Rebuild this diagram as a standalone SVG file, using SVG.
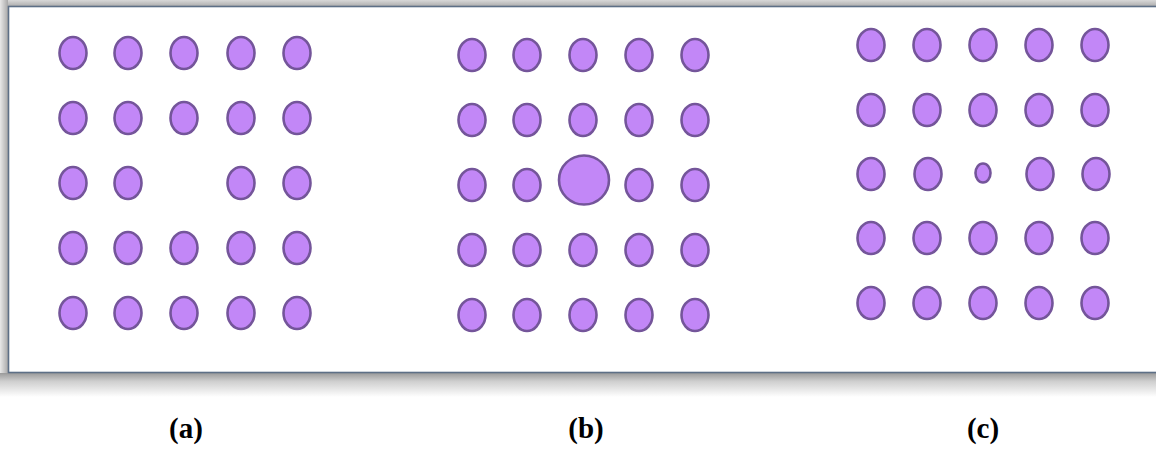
<svg xmlns="http://www.w3.org/2000/svg" width="1156" height="453" viewBox="0 0 1156 453">
<style>
.d{fill:#c287f7;stroke:#74559a;stroke-width:2.6}
.lbl{font-family:"Liberation Serif",serif;font-weight:bold;font-size:29px;fill:#000;text-anchor:middle}
</style>
<defs>
<linearGradient id="sb" x1="0" y1="0" x2="0" y2="1">
<stop offset="0" stop-color="#9a9a9a"/>
<stop offset="0.35" stop-color="#cfcfcf"/>
<stop offset="1" stop-color="#ffffff"/>
</linearGradient>
<linearGradient id="sl" x1="0" y1="0" x2="1" y2="0">
<stop offset="0" stop-color="#e8e8e8"/>
<stop offset="1" stop-color="#a8a8a8"/>
</linearGradient>
<linearGradient id="st" x1="0" y1="0" x2="0" y2="1">
<stop offset="0" stop-color="#d8d8d8"/>
<stop offset="1" stop-color="#a8a8a8"/>
</linearGradient>
</defs>
<rect width="1156" height="453" fill="#fff"/>
<g id="frame">
<rect x="0" y="0" width="1156" height="7" fill="url(#st)"/>
<rect x="0" y="0" width="8" height="380" fill="url(#sl)"/>
<rect x="0" y="373" width="1156" height="24" fill="url(#sb)"/>
<rect x="8.5" y="6.5" width="1160" height="366" fill="#fff" stroke="#5d6f86" stroke-width="1.6"/>
</g>
<g id="panel-a">
<ellipse class="d" cx="73" cy="53" rx="13.5" ry="16"/><ellipse class="d" cx="128" cy="53" rx="13.5" ry="16"/><ellipse class="d" cx="184" cy="53" rx="13.5" ry="16"/><ellipse class="d" cx="241" cy="53" rx="13.5" ry="16"/><ellipse class="d" cx="297" cy="53" rx="13.5" ry="16"/>
<ellipse class="d" cx="73" cy="118" rx="13.5" ry="16"/><ellipse class="d" cx="128" cy="118" rx="13.5" ry="16"/><ellipse class="d" cx="184" cy="118" rx="13.5" ry="16"/><ellipse class="d" cx="241" cy="118" rx="13.5" ry="16"/><ellipse class="d" cx="297" cy="118" rx="13.5" ry="16"/>
<ellipse class="d" cx="73" cy="183" rx="13.5" ry="16"/><ellipse class="d" cx="128" cy="183" rx="13.5" ry="16"/><ellipse class="d" cx="241" cy="183" rx="13.5" ry="16"/><ellipse class="d" cx="297" cy="183" rx="13.5" ry="16"/>
<ellipse class="d" cx="73" cy="248" rx="13.5" ry="16"/><ellipse class="d" cx="128" cy="248" rx="13.5" ry="16"/><ellipse class="d" cx="184" cy="248" rx="13.5" ry="16"/><ellipse class="d" cx="241" cy="248" rx="13.5" ry="16"/><ellipse class="d" cx="297" cy="248" rx="13.5" ry="16"/>
<ellipse class="d" cx="73" cy="313" rx="13.5" ry="16"/><ellipse class="d" cx="128" cy="313" rx="13.5" ry="16"/><ellipse class="d" cx="184" cy="313" rx="13.5" ry="16"/><ellipse class="d" cx="241" cy="313" rx="13.5" ry="16"/><ellipse class="d" cx="297" cy="313" rx="13.5" ry="16"/>
<text class="lbl" x="186" y="438">(a)</text>
</g>
<g id="panel-b">
<ellipse class="d" cx="472" cy="55" rx="13.5" ry="16"/><ellipse class="d" cx="527" cy="55" rx="13.5" ry="16"/><ellipse class="d" cx="583" cy="55" rx="13.5" ry="16"/><ellipse class="d" cx="639" cy="55" rx="13.5" ry="16"/><ellipse class="d" cx="695" cy="55" rx="13.5" ry="16"/>
<ellipse class="d" cx="472" cy="120" rx="13.5" ry="16"/><ellipse class="d" cx="527" cy="120" rx="13.5" ry="16"/><ellipse class="d" cx="583" cy="120" rx="13.5" ry="16"/><ellipse class="d" cx="639" cy="120" rx="13.5" ry="16"/><ellipse class="d" cx="695" cy="120" rx="13.5" ry="16"/>
<ellipse class="d" cx="472" cy="185" rx="13.5" ry="16"/><ellipse class="d" cx="527" cy="185" rx="13.5" ry="16"/><ellipse class="d" cx="584" cy="180" rx="25" ry="24.5"/><ellipse class="d" cx="639" cy="185" rx="13.5" ry="16"/><ellipse class="d" cx="695" cy="185" rx="13.5" ry="16"/>
<ellipse class="d" cx="472" cy="250" rx="13.5" ry="16"/><ellipse class="d" cx="527" cy="250" rx="13.5" ry="16"/><ellipse class="d" cx="583" cy="250" rx="13.5" ry="16"/><ellipse class="d" cx="639" cy="250" rx="13.5" ry="16"/><ellipse class="d" cx="695" cy="250" rx="13.5" ry="16"/>
<ellipse class="d" cx="472" cy="315" rx="13.5" ry="16"/><ellipse class="d" cx="527" cy="315" rx="13.5" ry="16"/><ellipse class="d" cx="583" cy="315" rx="13.5" ry="16"/><ellipse class="d" cx="639" cy="315" rx="13.5" ry="16"/><ellipse class="d" cx="695" cy="315" rx="13.5" ry="16"/>
<text class="lbl" x="586" y="438">(b)</text>
</g>
<g id="panel-c">
<ellipse class="d" cx="871" cy="45" rx="13.5" ry="16"/><ellipse class="d" cx="927" cy="45" rx="13.5" ry="16"/><ellipse class="d" cx="983" cy="45" rx="13.5" ry="16"/><ellipse class="d" cx="1039" cy="45" rx="13.5" ry="16"/><ellipse class="d" cx="1095" cy="45" rx="13.5" ry="16"/>
<ellipse class="d" cx="871" cy="110" rx="13.5" ry="16"/><ellipse class="d" cx="927" cy="110" rx="13.5" ry="16"/><ellipse class="d" cx="983" cy="110" rx="13.5" ry="16"/><ellipse class="d" cx="1039" cy="110" rx="13.5" ry="16"/><ellipse class="d" cx="1095" cy="110" rx="13.5" ry="16"/>
<ellipse class="d" cx="871" cy="174" rx="13.5" ry="16"/><ellipse class="d" cx="928" cy="174" rx="13.5" ry="16"/><ellipse class="d" cx="983" cy="173" rx="7.5" ry="9.5"/><ellipse class="d" cx="1040" cy="174" rx="13.5" ry="16"/><ellipse class="d" cx="1096" cy="174" rx="13.5" ry="16"/>
<ellipse class="d" cx="871" cy="238" rx="13.5" ry="16"/><ellipse class="d" cx="927" cy="238" rx="13.5" ry="16"/><ellipse class="d" cx="983" cy="238" rx="13.5" ry="16"/><ellipse class="d" cx="1039" cy="238" rx="13.5" ry="16"/><ellipse class="d" cx="1095" cy="238" rx="13.5" ry="16"/>
<ellipse class="d" cx="871" cy="303" rx="13.5" ry="16"/><ellipse class="d" cx="927" cy="303" rx="13.5" ry="16"/><ellipse class="d" cx="983" cy="303" rx="13.5" ry="16"/><ellipse class="d" cx="1039" cy="303" rx="13.5" ry="16"/><ellipse class="d" cx="1095" cy="303" rx="13.5" ry="16"/>
<text class="lbl" x="983" y="438">(c)</text>
</g>
</svg>
